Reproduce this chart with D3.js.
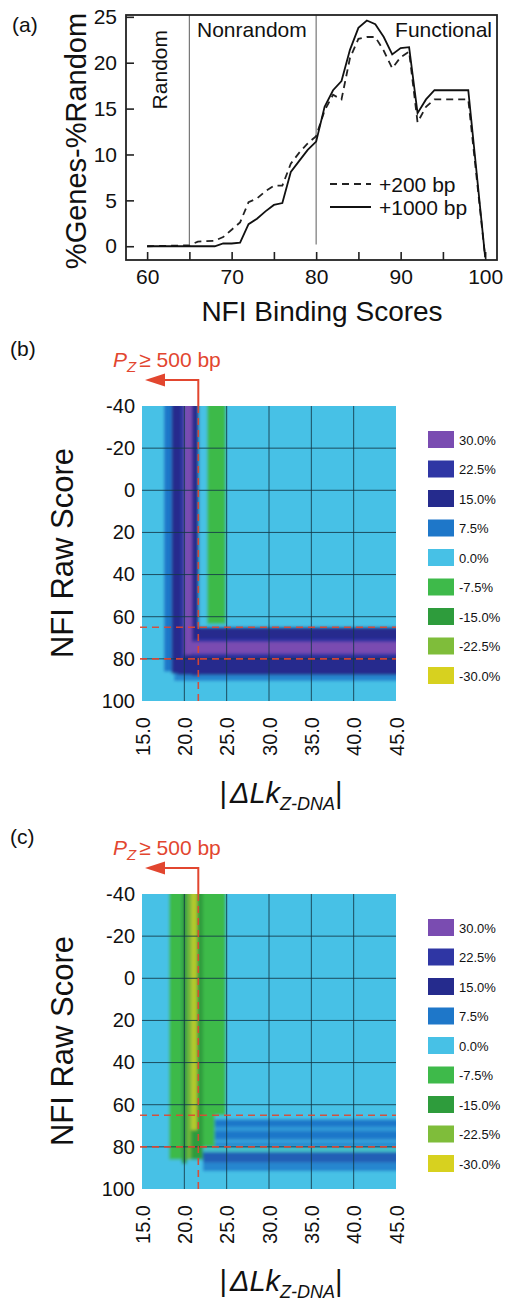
<!DOCTYPE html>
<html>
<meta charset=utf-8>
<head>
<style>
  body { margin: 0; background: #fff; }
  text { font-family: "Liberation Sans", Arial, sans-serif; fill: #111; }
</style>
</head>
<body>
<svg id="canvas" width="505" height="1301"></svg>
<script src="https://d3js.org/d3.v7.min.js"></script>
<script>

// ---- panel (a) data
var scores = [60, 65, 66, 68, 69, 70, 71, 72, 73, 74, 75, 76, 77, 78, 79, 80, 81, 82, 83, 84, 85, 86, 87, 88, 89, 90, 91, 92, 93, 94, 98, 100];
var bp200  = [0, 0.1, 0.5, 0.6, 1.0, 1.8, 2.6, 4.8, 5.2, 6.0, 6.6, 6.6, 9.0, 10.2, 11.2, 12.0, 14.8, 16.5, 16.0, 20.5, 22.6, 22.8, 22.8, 21.3, 19.4, 20.6, 21.2, 13.5, 15.2, 16.0, 16.0, -1.2];
var bp1000 = [0, 0, 0, 0, 0.3, 0.3, 0.4, 2.4, 3.0, 3.8, 4.5, 4.7, 8.1, 9.3, 10.5, 11.4, 15.2, 17.0, 18.0, 21.4, 23.8, 24.6, 24.2, 22.8, 20.9, 21.6, 21.7, 14.5, 16.0, 17.0, 17.0, -1.2];
var aXTicks = [60, 65, 70, 75, 80, 85, 90, 95, 100];
var aYTicks = [0, 5, 10, 15, 20, 25];
var regionCuts = [65, 80];

// ---- panels (b) and (c): bands of the heat map, [x0, x1, y0, y1, value %]
var bandsB = [
  [15, 45, -40, 100, 0],
  [17.6, 18.5, -40, 86, 7.5],
  [18.5, 19.6, -40, 87, 15],
  [19.6, 20.0, -40, 80, 22.5],
  [20.0, 20.9, -40, 78, 30],
  [20.9, 21.7, -40, 88, 15],
  [22.7, 24.9, -40, 63.5, -7.5],
  [18.8, 45, 86.5, 90.5, 6],
  [19.2, 45, 65, 87.6, 15],
  [21.0, 45, 70.5, 79, 22.5],
  [20.9, 45, 72.0, 77.5, 30]
];
var bandsC = [
  [15, 45, -40, 100, 0],
  [18.2, 19.7, -40, 86, -7.5],
  [19.7, 20.3, -40, 88, -15],
  [20.3, 20.8, -40, 86, -21],
  [20.8, 21.5, -40, 72, -27],
  [20.3, 21.6, 72, 86, -15],
  [21.5, 22.2, -40, 86, -15],
  [22.2, 24.9, -40, 65, -7.5],
  [22.2, 23.6, 65, 80, -7.5],
  [23.6, 45, 67, 70.5, 7.5],
  [23.6, 45, 70.5, 72.5, 4],
  [23.6, 45, 72.5, 76.5, 7.5],
  [23.6, 45, 76.5, 78, 3],
  [23.6, 45, 78, 80, 6],
  [22.2, 45, 80, 82.5, -1.5],
  [22.2, 45, 82.5, 87.5, 10],
  [22.2, 45, 87.5, 91.5, 6]
];
var legendValues = [30, 22.5, 15, 7.5, 0, -7.5, -15, -22.5, -30];
var legendColors = ['#7a4cb1', '#2f36a4', '#252b8d', '#1e77c9', '#47c1e6', '#3eba4a', '#2e9c3c', '#7fbd3a', '#d7d11f'];
var hmXTicks = [15, 20, 25, 30, 35, 40, 45];
var hmYTicks = [-40, -20, 0, 20, 40, 60, 80, 100];
var cutRows = [65, 80];
var cutCol = 21.65;

var svg = d3.select('#canvas');
var red = '#e2462f';

// ================= panel (a)
var ax = d3.scaleLinear().domain([57.5, 101.4]).range([126, 497]);
var ay = d3.scaleLinear().domain([-1.5, 25.2]).range([260, 15]);
var ga = svg.append('g');

ga.append('text').attr('x', 12).attr('y', 32).attr('font-size', 21).text('(a)');

// region separators
ga.selectAll('line.cut').data(regionCuts).enter().append('line')
  .attr('x1', function(d) { return ax(d) }).attr('x2', function(d) { return ax(d) })
  .attr('y1', ay(25.2)).attr('y2', ay(0.2))
  .attr('stroke', '#777').attr('stroke-width', 1.2);

var xa = ga.append('g').attr('transform', 'translate(0,260)')
  .call(d3.axisBottom(ax).tickValues(aXTicks).tickSize(-8).tickPadding(9)
    .tickFormat(function(d) { return d % 10 === 0 ? d : '' }));
var ya = ga.append('g').attr('transform', 'translate(126,0)')
  .call(d3.axisLeft(ay).tickValues(aYTicks).tickSize(-8).tickPadding(9));
[xa, ya].forEach(function(g) {
  g.select('.domain').remove();
  g.selectAll('line').attr('stroke', '#222').attr('stroke-width', 1.6);
  g.selectAll('text').attr('font-size', 21).attr('fill', '#111')
    .style('font-family', '"Liberation Sans", Arial, sans-serif');
});

ga.append('rect').attr('x', 126).attr('y', 15).attr('width', 371).attr('height', 245)
  .attr('fill', 'none').attr('stroke', '#222').attr('stroke-width', 1.8);

var line = d3.line()
  .x(function(d) { return ax(d[0]) })
  .y(function(d) { return ay(d[1]) });

ga.append('path').datum(d3.zip(scores, bp200)).attr('d', line)
  .attr('fill', 'none').attr('stroke', '#222').attr('stroke-width', 1.8).attr('stroke-dasharray', '7,5');
ga.append('path').datum(d3.zip(scores, bp1000)).attr('d', line)
  .attr('fill', 'none').attr('stroke', '#111').attr('stroke-width', 1.8);

ga.append('text').attr('transform', 'translate(167,30) rotate(-90)')
  .attr('text-anchor', 'end').attr('font-size', 21).text('Random');
ga.append('text').attr('x', 197).attr('y', 37).attr('font-size', 21).text('Nonrandom');
ga.append('text').attr('x', 492).attr('y', 37).attr('text-anchor', 'end').attr('font-size', 21).text('Functional');

// legend
ga.append('line').attr('x1', 330).attr('x2', 371).attr('y1', 184).attr('y2', 184)
  .attr('stroke', '#222').attr('stroke-width', 1.8).attr('stroke-dasharray', '7,5');
ga.append('line').attr('x1', 330).attr('x2', 371).attr('y1', 207).attr('y2', 207)
  .attr('stroke', '#111').attr('stroke-width', 1.8);
ga.append('text').attr('x', 379).attr('y', 192).attr('font-size', 21).text('+200 bp');
ga.append('text').attr('x', 379).attr('y', 215).attr('font-size', 21).text('+1000 bp');

ga.append('text').attr('transform', 'translate(86,141) rotate(-90)')
  .attr('text-anchor', 'middle').attr('font-size', 29).text('%Genes-%Random');
ga.append('text').attr('x', 322).attr('y', 321)
  .attr('text-anchor', 'middle').attr('font-size', 28).text('NFI Binding Scores');

// ================= panels (b) and (c)
var color = d3.scaleLinear().domain(legendValues).range(legendColors).clamp(true);

var defs = svg.append('defs');
defs.append('filter').attr('id', 'soft').attr('x', '-5%').attr('y', '-5%')
  .attr('width', '110%').attr('height', '110%')
  .append('feGaussianBlur').attr('stdDeviation', 1.8);

function heatPanel(label, bands, top, id) {
  var hx = d3.scaleLinear().domain([15, 45]).range([142, 396]);
  var hy = d3.scaleLinear().domain([-40, 100]).range([top, top + 295]);
  var g = svg.append('g');
  var pad = 10;

  defs.append('clipPath').attr('id', 'clip' + id).append('rect')
    .attr('x', hx(15)).attr('y', hy(-40))
    .attr('width', hx(45) - hx(15)).attr('height', hy(100) - hy(-40));

  var sorted = bands.slice().sort(function(a, b) { return Math.abs(a[4]) - Math.abs(b[4]) });
  g.append('g').attr('clip-path', 'url(#clip' + id + ')')
    .append('g').attr('filter', 'url(#soft)')
    .selectAll('rect').data(sorted).enter().append('rect')
    .attr('x', function(d) { return hx(d[0]) - (d[0] <= 15 ? pad : 0) })
    .attr('y', function(d) { return hy(d[2]) - (d[2] <= -40 ? pad : 0) })
    .attr('width', function(d) {
      return hx(d[1]) - hx(d[0]) + (d[0] <= 15 ? pad : 0) + (d[1] >= 45 ? pad : 0) })
    .attr('height', function(d) {
      return hy(d[3]) - hy(d[2]) + (d[2] <= -40 ? pad : 0) + (d[3] >= 100 ? pad : 0) })
    .attr('fill', function(d) { return color(d[4]) });

  // grid
  g.selectAll('line.gx').data(hmXTicks.slice(1, -1)).enter().append('line')
    .attr('x1', function(d) { return hx(d) }).attr('x2', function(d) { return hx(d) })
    .attr('y1', hy(-40)).attr('y2', hy(100))
    .attr('stroke', '#143848').attr('stroke-width', 1).attr('opacity', 0.85);
  g.selectAll('line.gy').data(hmYTicks.slice(1, -1)).enter().append('line')
    .attr('x1', hx(15)).attr('x2', hx(45))
    .attr('y1', function(d) { return hy(d) }).attr('y2', function(d) { return hy(d) })
    .attr('stroke', '#143848').attr('stroke-width', 1).attr('opacity', 0.85);

  // red cut lines
  g.selectAll('line.cr').data(cutRows).enter().append('line')
    .attr('x1', hx(15) - 2).attr('x2', hx(45))
    .attr('y1', function(d) { return hy(d) }).attr('y2', function(d) { return hy(d) })
    .attr('stroke', red).attr('stroke-width', 1.6).attr('stroke-dasharray', '7,5').attr('opacity', 0.9);
  g.append('line').attr('x1', hx(cutCol)).attr('x2', hx(cutCol))
    .attr('y1', hy(-40)).attr('y2', hy(100))
    .attr('stroke', red).attr('stroke-width', 1.6).attr('stroke-dasharray', '7,5').attr('opacity', 0.9);

  // annotation arrow
  var ay0 = top - 26;
  g.append('path')
    .attr('d', 'M' + hx(cutCol) + ',' + hy(-40) + 'V' + ay0 + 'H' + (hx(15) + 20))
    .attr('fill', 'none').attr('stroke', red).attr('stroke-width', 2);
  g.append('path')
    .attr('d', 'M' + (hx(15) + 3) + ',' + ay0 + 'L' + (hx(15) + 23) + ',' + (ay0 - 6.5) +
      'L' + (hx(15) + 23) + ',' + (ay0 + 6.5) + 'Z')
    .attr('fill', red);
  var at = g.append('text').attr('x', 113).attr('y', top - 39).attr('font-size', 21).style('fill', red);
  at.append('tspan').attr('font-style', 'italic').text('P');
  at.append('tspan').attr('font-style', 'italic').attr('font-size', 15).attr('dy', 5).text('Z');
  at.append('tspan').attr('dy', -5).attr('dx', 3).text('\u2265 500 bp');

  // axes
  var yax = g.append('g').attr('transform', 'translate(' + hx(15) + ',0)')
    .call(d3.axisLeft(hy).tickValues(hmYTicks).tickSize(0).tickPadding(7)
      .tickFormat(function(d) { return String(d) }));
  var xax = g.append('g').attr('transform', 'translate(0,' + hy(100) + ')')
    .call(d3.axisBottom(hx).tickValues(hmXTicks).tickSize(0)
      .tickFormat(function(d) { return d.toFixed(1) }));
  [xax, yax].forEach(function(a) {
    a.select('.domain').remove();
    a.selectAll('text').attr('font-size', 20).attr('fill', '#111')
      .style('font-family', '"Liberation Sans", Arial, sans-serif');
  });
  xax.selectAll('text').attr('transform', 'rotate(-90)')
    .attr('text-anchor', 'end').attr('x', -16).attr('y', 0).attr('dy', '0.36em');

  g.append('text').attr('x', 10).attr('y', top - 50).attr('font-size', 21).text(label);

  g.append('text').attr('transform', 'translate(73,' + (top + 147) + ') rotate(-90)')
    .attr('text-anchor', 'middle').attr('font-size', 31).text('NFI Raw Score');

  var xt = g.append('text').attr('x', 281).attr('y', top + 397)
    .attr('text-anchor', 'middle').attr('font-size', 29);
  xt.append('tspan').text('|');
  xt.append('tspan').attr('dx', 3).attr('font-style', 'italic').text('\u0394Lk');
  xt.append('tspan').attr('font-style', 'italic').attr('font-size', 18).attr('dy', 7).text('Z-DNA');
  xt.append('tspan').attr('dy', -7).text('|');

  // legend
  var lg = g.selectAll('g.leg').data(legendValues).enter().append('g')
    .attr('transform', function(d, i) { return 'translate(428,' + (top + 25 + i * 29.5) + ')' });
  lg.append('rect').attr('width', 26).attr('height', 17)
    .attr('fill', function(d, i) { return legendColors[i] });
  lg.append('text').attr('x', 31).attr('y', 13.5).attr('font-size', 13)
    .text(function(d) { return d.toFixed(1) + '%' });
}

heatPanel('(b)', bandsB, 406, 'b');
heatPanel('(c)', bandsC, 894, 'c');

</script>
</body>
</html>
